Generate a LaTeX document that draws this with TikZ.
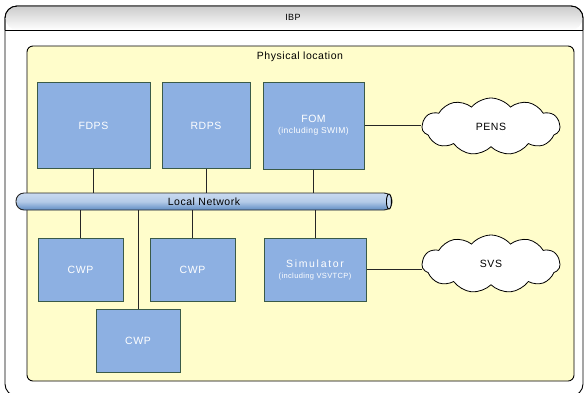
\documentclass[tikz,border=0pt]{standalone}
\usepackage{fontspec}
\setmainfont{Liberation Sans}[LetterSpace=5]
\newfontfamily\widefont{Liberation Sans}[LetterSpace=16]
\usetikzlibrary{shapes.symbols,calc}
\definecolor{boxfill}{HTML}{8DB0E2}
\definecolor{boxline}{HTML}{3A5A48}
\definecolor{yel}{HTML}{FFFDCB}
\definecolor{pipetop}{HTML}{C9DAF0}
\definecolor{pipebot}{HTML}{5F8CC4}
\tikzset{
  sysbox/.style={draw=boxline, line width=1pt, fill=boxfill, text=white, align=center, font=\fontsize{10.5}{12}\selectfont, inner sep=0pt},
  netcloud/.style={cloud, cloud puffs=11, cloud puff arc=100, draw=black, line width=0.8pt, fill=white, font=\fontsize{10.5}{12}\selectfont, inner sep=0pt},
  link/.style={draw=black!85, line width=0.9pt},
}
\begin{document}
\begin{tikzpicture}[x=1pt,y=-1pt]
\useasboundingbox (0,0) rectangle (586,392);
\fill[white] (0,0) rectangle (586,392);
\clip (0,0) rectangle (586,392);
% outer IBP container
\draw[line width=0.9pt, fill=white, rounded corners=12pt] (5,6) rectangle (583,396);
\shade[top color=black!20, bottom color=white, rounded corners=12pt] (5.5,6.5) -- (582.5,6.5) -- (582.5,30) -- (5.5,30) -- cycle;
\draw[line width=0.9pt, rounded corners=12pt] (5,30) -- (5,6) -- (583,6) -- (583,30);
\draw[line width=0.9pt] (5,30) -- (583,30);
\node[font=\fontsize{9}{10}\selectfont] (ibp) at (293,17) {IBP};
% physical location
\draw[line width=0.9pt, fill=yel, rounded corners=6pt] (27,46) rectangle (574,381);
\node[font=\fontsize{10.5}{12}\selectfont] (phys) at (300,57) {Physical location};
% systems
\node[sysbox, minimum width=113pt, minimum height=86pt] (fdps) at (93.5,125.5) {FDPS};
\node[sysbox, minimum width=88pt, minimum height=86pt] (rdps) at (206,125.5) {RDPS};
\node[sysbox, minimum width=101pt, minimum height=87pt] (fom) at (313.5,125.5) {FOM\\[-1pt]{\fontsize{8.5}{10}\selectfont(including SWIM)}};
\node[sysbox, minimum width=85pt, minimum height=63pt] (cwpa) at (80.5,269.5) {CWP};
\node[sysbox, minimum width=85pt, minimum height=63pt] (cwpb) at (192.5,269.5) {CWP};
\node[sysbox, minimum width=84pt, minimum height=63pt] (cwpc) at (138,340.5) {CWP};
\node[sysbox, minimum width=102pt, minimum height=63pt] (sim) at (315,269.5) {{\widefont Simulator}\\[-1pt]{\fontsize{7.5}{9}\selectfont(including VSVTCP)}};
% clouds
\node[netcloud, aspect=2.4, minimum width=138pt, minimum height=57pt] (pens) at (491,126.5) {PENS};
\node[netcloud, aspect=2.4, minimum width=138pt, minimum height=58pt] (svs) at (491,264) {SVS};
% local network pipe
\node[draw=black!85, line width=0.9pt, rounded corners=8pt, top color=pipetop, bottom color=pipebot, middle color=pipetop!80!pipebot, minimum width=376pt, minimum height=17pt, inner sep=0pt, font=\fontsize{10.5}{12}\selectfont] (net) at (204,201.5) {Local Network};
\draw[line width=0.9pt, fill=pipetop] ($(net.east)+(-3.5,0)$) ellipse (2.5pt and 7.5pt);
% connectors
\draw[link] (fdps.south) -- (fdps.south |- net.north);
\draw[link] (rdps.south) -- (rdps.south |- net.north);
\draw[link] (fom.south) -- (fom.south |- net.north);
\draw[link] (cwpa.north) -- (cwpa.north |- net.south);
\draw[link] (cwpb.north) -- (cwpb.north |- net.south);
\draw[link] (cwpc.north) -- (cwpc.north |- net.south);
\draw[link] (sim.north) -- (sim.north |- net.south);
\draw[link] (fom.east) -- (fom.east -| pens.west);
\draw[link] (sim.east) -- (sim.east -| svs.west);
\end{tikzpicture}
\end{document}
